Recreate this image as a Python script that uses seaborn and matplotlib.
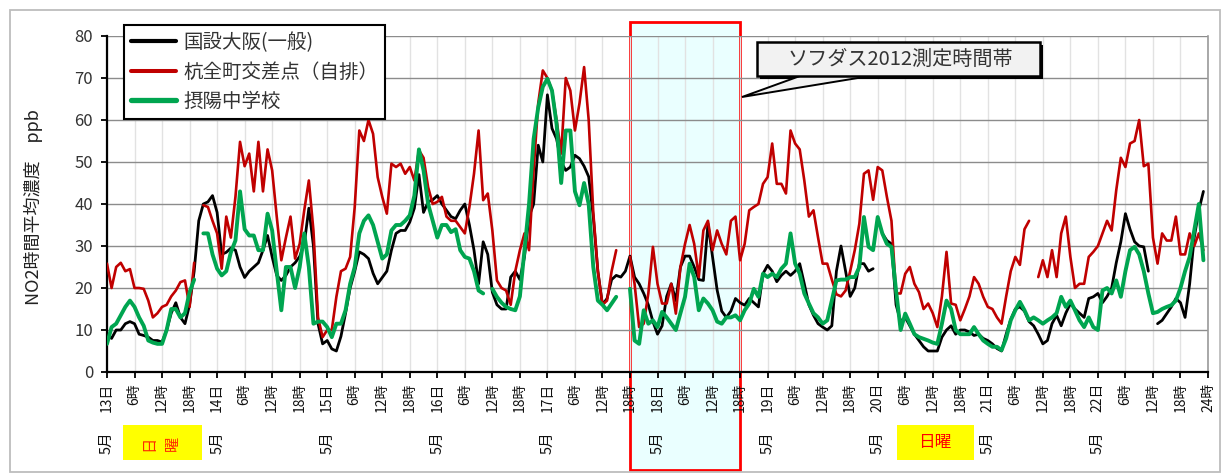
import numpy as np
import pandas as pd
import matplotlib
matplotlib.use("Agg")
import matplotlib.pyplot as plt
import matplotlib.transforms as mtransforms
from matplotlib.patches import Rectangle, Polygon
from matplotlib.lines import Line2D
import seaborn as sns

nan = np.nan

# ---- data (hourly NO2, ppb), 5/13 0h .. 5/22 23h ----
kokusetsu = [
    9, 8, 10, 10, 11.5, 12, 11.5, 9, 8.7, 8.3, 7.5, 7.5,
    7.1, 10, 14, 16.5, 13, 11.5, 16, 24, 36, 40, 40.5, 42,
    38, 28, 28.5, 29.5, 29, 25, 22.5, 24, 25, 26, 29, 32.5,
    27.4, 23, 21.8, 23, 25, 26, 27.5, 30.5, 39, 30, 11.5, 6.7,
    7.5, 5.5, 5, 8.5, 14, 20, 24, 28.6, 28, 27, 23.5, 21,
    22.5, 24, 29, 33, 33.7, 33.7, 35.7, 39, 47, 38, 40.5, 41,
    42, 40, 38.5, 37, 36.5, 38.5, 40, 35, 29, 21, 31, 28,
    19, 16, 15, 15, 22.6, 24, 22, 27.4, 37, 40, 54, 50,
    66, 58, 55.5, 50, 48, 48.8, 51.6, 50.8, 49, 46.5, 37, 24,
    16, 17.5, 22, 23, 22.6, 24, 27.6, 22.6, 21, 18.7, 16, 12,
    9, 11, 18, 21, 17, 25, 27.6, 27.6, 25, 22, 21.8, 35.3,
    27.4, 19.5, 14.5, 13, 14.5, 17.5, 16.5, 15.9, 17.5, 16.5, 15.5, 23.4,
    25.4, 24, 21.5, 23, 24, 23, 24, 25.8, 21, 16, 13.5, 11.5,
    10.7, 10, 11, 24, 30, 24, 18, 20, 25.8, 25.8, 24, 24.6,
    nan, 33, 31.3, 30.5, 16, 12, 13, 11, 9, 7.5, 6, 5,
    5, 5, 8.3, 10, 11, 9, 10, 10, 9.5, 8.7, 9, 8,
    7.5, 6.7, 5.6, 5, 9, 12.5, 15, 15.5, 14.5, 12, 11, 9,
    6.7, 7.5, 11.5, 13.5, 11, 14, 16.3, 15, 14, 13, 17.5, 17.9,
    18.7, 16.5, 18, 20, 26, 31, 37.7, 34, 31, 30, 29.8, 24,
    nan, 11.5, 12.3, 13.9, 15.5, 17.5, 16.5, 13, 21, 32, 38.5, 43,
]

kumata = [
    25.8, 20, 25, 26, 24, 24.5, 20, 20, 19.8, 17, 13, 14,
    15.5, 16, 18, 19.4, 21.4, 21.8, 15.5, 26, nan, 39.7, 39.3, 36,
    33, 24.6, 37, 32, 41.7, 54.8, 49, 52, 43, 54.8, 43, 53,
    48, 37, 26.6, 32, 37, 27, 30.5, 38.5, 45.6, 33.7, 13, 8.3,
    10, 10, 17.9, 24, 24.6, 27.4, 39.3, 57.5, 55, 60, 56.7, 46.4,
    41.7, 37.7, 49.6, 48.8, 49.6, 47.2, 48.8, 45.6, 52.8, 51, 44, 40,
    40.5, 41.7, 37, 36, 36, 34.5, 33, 39.3, 47.2, 57.5, 40.9, 42.5,
    33.7, 21.8, 20, 19.4, 16, 24, 29, 33, 29, 48, 64, 71.8,
    70, 67, 60, 52, 70, 67, 57.5, 64, 72.6, 60, 38, 24,
    16, 17, 24, 29, nan, nan, 27.4, 21, 10.7, 11.5, 18.7, 29.8,
    21, 16.3, 16.3, 21, 13.9, 25, 30.5, 35, 30.5, 22.6, 33.7, 36,
    29, 33.7, 30.5, 28, 36, 37, 26.6, 30.5, 38.5, 39.3, 40, 44.8,
    46.4, 54.4, 44.8, 44.8, 42.5, 57.5, 54.4, 53, 45.6, 37, 38.5, 32,
    25.8, 25.8, 22, 18.5, 18, 19.4, 24, 29, 35.3, 47.2, 48, 41,
    48.8, 48, 41.7, 36, 18.7, 18.7, 23.4, 25, 21, 19, 15, 16.3,
    14, 10.7, 18, 28.6, 16.3, 16, 12.3, 15, 18, 22.6, 21, 17.9,
    15.5, 15, 13, 11.5, 18, 24, 27.4, 25.5, 34, 36, nan, 22.6,
    26.6, 22.6, 29, 22.6, 33, 37, 27.4, 20, 21, 21, 27.4, 28.6,
    30, 33, 36, 33.7, 43.3, 51, 48.8, 54.4, 55, 60, 49, 49.6,
    32, 25.8, 33, 31.3, 31.3, 37, 28, 28, 33, 30, 33, 29,
]

setsuyo = [
    6.7, 10.7, 11.5, 13.5, 15.5, 17, 15.5, 13, 11, 7.5, 7, 6.7,
    6.7, 10, 15, 15, 13, 14, 19, 22, nan, 33, 33, 28,
    24.6, 23, 24, 28.5, 31.3, 43, 34, 32.5, 32.5, 29, 29, 37.7,
    33.7, 24, 14.7, 25, 25, 20, 25, 33, 25, 11.5, 12, 12,
    10.7, 8.3, 11.5, 11.5, 14.7, 21, 25, 33, 36, 37.3, 35, 31,
    27, 28, 33.7, 35, 35, 36, 37.3, 42, 53, 48, 40, 36,
    32, 35, 35, 33.3, 34, 29, 27.4, 27, 24, 19.4, 18.7, nan,
    19.8, 17.9, 16.5, 15.5, 15, 14.7, 18, 29, 40, 55.5, 63, 67.9,
    69.8, 67, 59, 45, 57.5, 57.5, 43, 39.7, 45, 40, 25, 17,
    16, 14.7, 16.3, 17.9, nan, nan, 19.8, 7.5, 6.7, 14.7, 11.5, 12.3,
    10.7, 14.3, 13, 11.5, 10, 14, 17.9, 25.8, 22.6, 14.7, 17.5, 16.3,
    14.7, 12, 11.5, 13, 13, 13.5, 12.3, 14.7, 16.3, 19.8, 17.9, 23.4,
    22.6, 23.4, 22.6, 24.6, 25.8, 33, 25.8, 23.4, 18.7, 16.3, 14, 13,
    11.5, 12.3, 17, 21.8, 22, 22, 22.6, 22.6, 25, 36.9, 29.8, 29,
    36.9, 33, 30.5, 29.8, 19.4, 10, 13.9, 11.5, 9, 8.3, 7.9, 7.5,
    7, 6.7, 11.5, 17, 15, 10, 9, 9, 9, 10.7, 9, 7.5,
    6.7, 6, 6, 5.2, 8, 12.3, 14.7, 16.7, 14.7, 12.3, 13, 12.3,
    11.5, 12.3, 13, 14, 17.9, 15.5, 17, 14.7, 12.3, 10.7, 13, 10.7,
    10, 19.4, 20, 18.7, 21.8, 17.9, 24, 29, 29.8, 28, 24, 18.7,
    14, 14.3, 15, 15.5, 15.9, 17, 20, 24, 27.4, 33.7, 40, 26.6,
]

series_names = ["国設大阪(一般)", "杭全町交差点（自排）", "摂陽中学校"]
days = [13, 14, 15, 16, 17, 18, 19, 20, 21, 22]
hour_labels = ["6時", "12時", "18時"]
month_label = "5月"
end_label = "24時"
callout_text = "ソフダス2012測定時間帯"
sunday_text = "日曜"
yticks = [0, 10, 20, 30, 40, 50, 60, 70, 80]
ylabel = "NO2時間平均濃度\u3000ppb"

colors = ["#000000", "#c00000", "#00a550"]
widths = [2.0, 1.9, 2.8]

W, H = 1222, 474


def fx(x):
    return x / W


def fy(y):
    return 1 - y / H


def to_long(vals, name):
    rows = []
    seg = 0
    for i, v in enumerate(vals):
        if v is None or (isinstance(v, float) and np.isnan(v)):
            seg += 1
            continue
        rows.append((i, v, seg, name))
    return pd.DataFrame(rows, columns=["hour", "value", "seg", "series"])


sns.set_theme(style="white")
plt.rcParams["font.family"] = ["Noto Sans CJK JP", "DejaVu Sans"]

fig = plt.figure(figsize=(W / 100, H / 100), dpi=100)
ax = fig.add_axes([fx(107), fy(372), (1208 - 107) / W, (372 - 36) / H])

all_vals = [kokusetsu, kumata, setsuyo]
for name, vals, c, lw in zip(series_names, all_vals, colors, widths):
    df = to_long(vals, name)
    sns.lineplot(data=df, x="hour", y="value", units="seg", estimator=None,
                 color=c, linewidth=lw, ax=ax, legend=False, sort=False,
                 zorder=3)

ax.set_xlim(0, 240)
ax.set_ylim(0, 80)
ax.set_xlabel("")
ax.set_ylabel(ylabel, fontsize=13, color="#222222")
ax.yaxis.set_label_coords((43 - 107) / 1101, 0.49)

ax.set_yticks(yticks)
ax.set_yticklabels([str(v) for v in yticks], fontsize=12, color="#333333")

xt = list(range(0, 241, 6))
xl = []
for d in days:
    xl += [f"{d}日"] + hour_labels
xl.append(end_label)
ax.set_xticks(xt)
ax.set_xticklabels(xl, rotation=90, fontsize=10, color="#111111")

ax.tick_params(axis="y", which="both", left=True, direction="out",
               length=4, width=1.3, color="black", pad=6)
ax.tick_params(axis="x", which="both", bottom=True, direction="out",
               length=4, width=1.3, color="black", pad=4)
ax.yaxis.grid(True, color="#8c8c8c", linewidth=1.0)
ax.xaxis.grid(True, color="#e2e2e2", linewidth=1.0)
ax.set_axisbelow(True)
for s in ["left", "bottom"]:
    ax.spines[s].set_color("black")
    ax.spines[s].set_linewidth(1.6)
ax.spines["top"].set_visible(False)
ax.spines["right"].set_color("#9a9a9a")
ax.spines["right"].set_linewidth(1.2)

blend = mtransforms.blended_transform_factory(ax.transData, ax.transAxes)

# month labels under each day tick
for d_i, d in enumerate(days):
    ax.text(d_i * 24, (372 - 443) / 336, month_label, rotation=90,
            transform=blend, ha="center", va="center", fontsize=10.5,
            color="#111111", clip_on=False)

# highlighted measuring window
ax.add_patch(Rectangle((114, (372 - 470) / 336), 24, (470 - 22) / 336,
                       transform=blend, facecolor="#eaffff",
                       edgecolor="#ff0000", linewidth=2.0, clip_on=False,
                       zorder=0.3))

# yellow Sunday boxes
for (x0, x1) in [(123, 202), (897, 974)]:
    fig.patches.append(Rectangle((fx(x0), fy(460)), fx(x1) - fx(x0),
                                 fy(425) - fy(460), transform=fig.transFigure,
                                 facecolor="#ffff00", edgecolor="none",
                                 zorder=1))
fig.text(fx(149), fy(443), sunday_text[0], rotation=90, ha="center",
         va="center", fontsize=11, color="#ff2a00")
fig.text(fx(172), fy(443), sunday_text[1], rotation=90, ha="center",
         va="center", fontsize=11, color="#ff2a00")
fig.text(fx(935), fy(443), sunday_text, ha="center", va="center",
         fontsize=12, color="#ff0000")

# callout
fig.patches.append(Rectangle((fx(760), fy(79)), fx(1043) - fx(760),
                             fy(45) - fy(79), transform=fig.transFigure,
                             facecolor="black", edgecolor="none", zorder=5))
fig.patches.append(Rectangle((fx(757), fy(76)), fx(1040) - fx(757),
                             fy(42) - fy(76), transform=fig.transFigure,
                             facecolor="#f2f2f2", edgecolor="black",
                             linewidth=1.8, zorder=6))
fig.patches.append(Polygon([(fx(800), fy(76)), (fx(870), fy(76)),
                            (fx(742), fy(97))], closed=True,
                           transform=fig.transFigure, facecolor="#f2f2f2",
                           edgecolor="black", linewidth=1.4, zorder=5.5))
fig.text(fx(900), fy(59), callout_text, ha="center", va="center",
         fontsize=14.5, color="#333333", zorder=7)

# outer border
fig.patches.append(Rectangle((fx(10), fy(472)), fx(1220) - fx(10),
                             fy(10) - fy(472), transform=fig.transFigure,
                             fill=False, edgecolor="#bdbdbd", linewidth=1.3,
                             zorder=0))

handles = [Line2D([], [], color=c, linewidth=w + 1) for c, w in zip(colors, widths)]
leg = ax.legend(handles, series_names, loc="upper left",
                bbox_to_anchor=((124 - 107) / 1101, (372 - 25) / 336),
                frameon=True, fancybox=False, framealpha=1, fontsize=14,
                handlelength=2.3, labelspacing=0.45, borderpad=0.35,
                handletextpad=0.4, borderaxespad=0)
leg.get_frame().set_edgecolor("black")
leg.get_frame().set_linewidth(1.5)
for t in leg.get_texts():
    t.set_color("#333333")
leg.set_zorder(10)

fig.savefig("out.png", dpi=100)
